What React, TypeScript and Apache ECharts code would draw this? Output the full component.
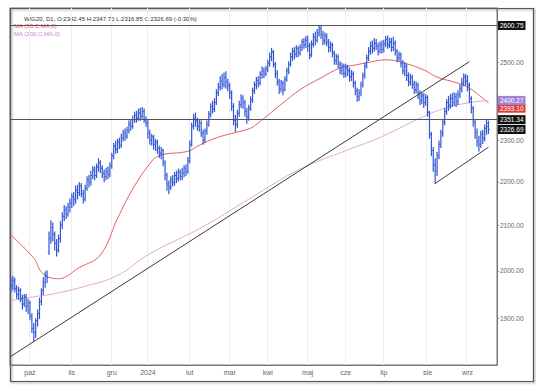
import React, { useEffect, useRef } from 'react';
import * as echarts from 'echarts';

// ---- categories (trading days per month, Sept 2023 .. Sept 2024) ----
const monthNames = ['wrz', 'paź', 'lis', 'gru', '2024', 'lut', 'mar', 'kwi', 'maj', 'cze', 'lip', 'sie', 'wrz'];
const monthDays = [10, 22, 21, 19, 22, 21, 20, 21, 20, 20, 23, 21, 12];
const futureBars = 4;

// ---- OHLC bars: [open, close, low, high] ----
const sep23 = [
  [1975, 1968, 1955, 1985], [1968, 1980, 1960, 1988], [1980, 1962, 1955, 1984], [1962, 1950, 1942, 1968],
  [1950, 1958, 1940, 1965], [1958, 1942, 1935, 1962], [1942, 1930, 1920, 1948], [1930, 1945, 1925, 1950],
  [1945, 1925, 1915, 1950], [1925, 1932, 1910, 1940],
];
const oct23 = [
  [1932, 1905, 1898, 1936], [1905, 1880, 1872, 1910], [1880, 1872, 1855, 1890], [1872, 1895, 1862, 1900],
  [1895, 1910, 1885, 1918], [1910, 1935, 1900, 1942], [1935, 1958, 1928, 1962], [1958, 1975, 1950, 1985],
  [1975, 1990, 1965, 1998], [1990, 1985, 1975, 2000], [2040, 2070, 2035, 2085], [2070, 2095, 2060, 2110],
  [2095, 2080, 2065, 2105], [2080, 2060, 2045, 2085], [2060, 2045, 2032, 2068], [2045, 2070, 2040, 2078],
  [2070, 2100, 2062, 2108], [2100, 2120, 2092, 2128], [2120, 2135, 2110, 2145], [2135, 2125, 2115, 2142],
  [2125, 2140, 2120, 2150], [2140, 2150, 2130, 2160],
];
const nov23 = [
  [2150, 2165, 2140, 2172], [2165, 2158, 2145, 2175], [2158, 2180, 2150, 2190], [2180, 2175, 2160, 2192],
  [2175, 2190, 2168, 2198], [2190, 2172, 2165, 2196], [2172, 2160, 2150, 2180], [2160, 2185, 2155, 2192],
  [2185, 2205, 2180, 2212], [2205, 2198, 2188, 2215], [2198, 2215, 2192, 2225], [2215, 2228, 2208, 2236],
  [2228, 2215, 2205, 2235], [2215, 2235, 2210, 2242], [2235, 2245, 2225, 2255], [2245, 2232, 2222, 2250],
  [2232, 2220, 2210, 2238], [2220, 2212, 2200, 2228], [2212, 2225, 2205, 2232], [2225, 2218, 2208, 2235],
  [2218, 2238, 2212, 2245],
];
const dec23 = [
  [2238, 2262, 2232, 2268], [2262, 2285, 2255, 2292], [2285, 2278, 2268, 2298], [2278, 2295, 2270, 2302],
  [2295, 2288, 2280, 2305], [2288, 2305, 2282, 2315], [2305, 2318, 2298, 2325], [2318, 2310, 2300, 2328],
  [2310, 2325, 2305, 2332], [2325, 2340, 2318, 2348], [2340, 2335, 2325, 2352], [2335, 2352, 2330, 2360],
  [2352, 2362, 2345, 2370], [2362, 2355, 2345, 2372], [2355, 2368, 2350, 2378], [2368, 2360, 2350, 2380],
  [2360, 2372, 2355, 2382], [2372, 2350, 2345, 2378], [2350, 2342, 2335, 2358],
];
const jan24 = [
  [2342, 2318, 2305, 2350], [2318, 2300, 2290, 2325], [2300, 2308, 2288, 2315], [2308, 2290, 2278, 2312],
  [2290, 2295, 2275, 2302], [2295, 2280, 2268, 2300], [2280, 2268, 2258, 2285], [2268, 2275, 2255, 2282],
  [2275, 2245, 2238, 2278], [2245, 2215, 2205, 2250], [2215, 2195, 2180, 2220], [2195, 2188, 2172, 2202],
  [2188, 2205, 2182, 2212], [2205, 2198, 2190, 2215], [2198, 2215, 2192, 2222], [2215, 2208, 2198, 2225],
  [2208, 2222, 2202, 2230], [2222, 2212, 2205, 2228], [2212, 2220, 2205, 2232], [2220, 2232, 2212, 2238],
  [2232, 2225, 2215, 2240], [2225, 2250, 2220, 2258],
];
const feb24 = [
  [2250, 2290, 2245, 2298], [2290, 2335, 2285, 2342], [2335, 2355, 2328, 2365], [2355, 2348, 2335, 2368],
  [2348, 2335, 2325, 2355], [2335, 2342, 2322, 2350], [2342, 2318, 2310, 2348], [2318, 2300, 2290, 2325],
  [2300, 2322, 2295, 2328], [2322, 2340, 2315, 2348], [2340, 2365, 2335, 2372], [2365, 2385, 2358, 2392],
  [2385, 2378, 2368, 2398], [2378, 2395, 2372, 2405], [2395, 2420, 2390, 2428], [2420, 2435, 2412, 2445],
  [2435, 2450, 2428, 2462], [2450, 2442, 2430, 2468], [2442, 2460, 2435, 2472], [2460, 2448, 2432, 2475],
  [2448, 2438, 2425, 2455],
];
const mar24 = [
  [2438, 2420, 2405, 2445], [2420, 2385, 2375, 2425], [2385, 2350, 2338, 2392], [2350, 2340, 2322, 2362],
  [2340, 2368, 2332, 2375], [2368, 2390, 2360, 2398], [2390, 2405, 2382, 2415], [2405, 2395, 2380, 2412],
  [2395, 2372, 2360, 2400], [2372, 2358, 2342, 2380], [2358, 2380, 2350, 2388], [2380, 2402, 2375, 2410],
  [2402, 2425, 2395, 2432], [2425, 2440, 2418, 2448], [2440, 2452, 2430, 2460], [2452, 2445, 2435, 2462],
  [2445, 2468, 2440, 2475], [2468, 2478, 2458, 2488], [2478, 2470, 2460, 2485], [2470, 2482, 2465, 2490],
];
const apr24 = [
  [2482, 2498, 2475, 2505], [2498, 2515, 2490, 2525], [2515, 2528, 2505, 2538], [2528, 2495, 2488, 2532],
  [2495, 2470, 2460, 2500], [2470, 2448, 2440, 2478], [2448, 2430, 2418, 2455], [2430, 2445, 2422, 2452],
  [2445, 2428, 2415, 2450], [2428, 2455, 2425, 2462], [2455, 2478, 2450, 2485], [2478, 2495, 2470, 2502],
  [2495, 2515, 2490, 2525], [2515, 2530, 2505, 2538], [2530, 2522, 2510, 2540], [2522, 2538, 2515, 2545],
  [2538, 2525, 2515, 2542], [2525, 2540, 2520, 2548], [2540, 2555, 2532, 2562], [2555, 2548, 2538, 2565],
  [2548, 2560, 2540, 2570],
];
const may24 = [
  [2560, 2545, 2530, 2572], [2545, 2520, 2510, 2552], [2520, 2550, 2515, 2558], [2550, 2568, 2542, 2578],
  [2568, 2560, 2548, 2582], [2560, 2580, 2555, 2590], [2580, 2592, 2572, 2600.75], [2592, 2575, 2565, 2598],
  [2575, 2560, 2548, 2585], [2560, 2572, 2550, 2580], [2572, 2555, 2545, 2578], [2555, 2540, 2528, 2562],
  [2540, 2548, 2530, 2555], [2548, 2525, 2515, 2552], [2525, 2505, 2495, 2530], [2505, 2515, 2495, 2522],
  [2515, 2495, 2485, 2520], [2495, 2480, 2470, 2502], [2480, 2490, 2468, 2498], [2490, 2470, 2460, 2495],
];
const jun24 = [
  [2470, 2485, 2462, 2495], [2485, 2478, 2465, 2492], [2478, 2462, 2450, 2485], [2462, 2470, 2452, 2478],
  [2470, 2445, 2435, 2475], [2445, 2425, 2415, 2450], [2425, 2410, 2398, 2432], [2410, 2420, 2400, 2428],
  [2420, 2440, 2412, 2448], [2440, 2465, 2435, 2472], [2465, 2490, 2458, 2498], [2490, 2512, 2485, 2520],
  [2512, 2530, 2505, 2540], [2530, 2545, 2522, 2555], [2545, 2538, 2525, 2558], [2538, 2552, 2530, 2565],
  [2552, 2545, 2535, 2562], [2545, 2530, 2520, 2552], [2530, 2548, 2525, 2555], [2548, 2535, 2525, 2558],
];
const jul24 = [
  [2535, 2550, 2528, 2560], [2550, 2562, 2542, 2570], [2562, 2548, 2538, 2572], [2548, 2555, 2540, 2566],
  [2555, 2540, 2530, 2565], [2540, 2552, 2532, 2568], [2552, 2530, 2520, 2558], [2530, 2512, 2502, 2535],
  [2512, 2520, 2505, 2528], [2520, 2498, 2488, 2525], [2498, 2478, 2470, 2505], [2478, 2490, 2465, 2500],
  [2490, 2465, 2452, 2495], [2465, 2448, 2438, 2472], [2448, 2460, 2440, 2468], [2460, 2442, 2432, 2466],
  [2442, 2428, 2418, 2450], [2428, 2440, 2420, 2448], [2440, 2418, 2405, 2445], [2418, 2400, 2390, 2425],
  [2400, 2412, 2392, 2420], [2412, 2395, 2382, 2418], [2395, 2408, 2388, 2415],
];
const aug24 = [
  [2408, 2370, 2360, 2412], [2370, 2315, 2305, 2372], [2315, 2275, 2262, 2320], [2275, 2240, 2225, 2282],
  [2240, 2225, 2196, 2255], [2225, 2262, 2215, 2270], [2262, 2290, 2255, 2298], [2290, 2318, 2282, 2325],
  [2318, 2345, 2310, 2352], [2345, 2372, 2338, 2380], [2372, 2395, 2365, 2402], [2395, 2388, 2375, 2410],
  [2388, 2405, 2380, 2415], [2405, 2395, 2385, 2418], [2395, 2410, 2388, 2420], [2410, 2398, 2385, 2418],
  [2398, 2415, 2390, 2425], [2415, 2430, 2408, 2440], [2430, 2445, 2422, 2458], [2445, 2462, 2438, 2470],
  [2462, 2450, 2440, 2468],
];
const sep24 = [
  [2450, 2440, 2425, 2465], [2440, 2405, 2395, 2445], [2405, 2380, 2368, 2410], [2380, 2345, 2335, 2385],
  [2345, 2320, 2305, 2352], [2320, 2298, 2285, 2328], [2298, 2290, 2274, 2310], [2290, 2315, 2282, 2322],
  [2315, 2305, 2292, 2325], [2305, 2330, 2298, 2338], [2330, 2334, 2315, 2350], [2342.45, 2326.69, 2316.85, 2347.7],
];

// ---- moving averages: [bar index, value] ----
const ma50 = [
  [0, 2078], [12, 2027], [17, 1993], [25, 1983], [36, 2007], [47, 2034], [56, 2115], [64, 2183],
  [73, 2243], [78, 2263], [93, 2273], [99, 2288], [108, 2306], [117, 2318], [126, 2330], [131, 2347],
  [142, 2390], [152, 2428], [163, 2459], [173, 2485], [181, 2493], [189, 2501], [197, 2507], [205, 2501],
  [217, 2480], [224, 2461], [235, 2445], [241, 2432], [248, 2406], [251, 2393.1],
];
const ma200 = [
  [0, 1937], [12, 1945], [21, 1950], [38, 1966], [56, 1990], [73, 2037], [99, 2092], [126, 2162],
  [152, 2230], [178, 2278], [194, 2307], [215, 2355], [229, 2382], [243, 2396], [251, 2400.27],
];

// ---- levels, trend lines, texts ----
const yTickValues = [1900, 2000, 2100, 2200, 2300, 2500];
const hLines = [2600.75, 2351.34];
const lastClose = 2326.69;
const ma50Last = 2393.1;
const ma200Last = 2400.27;
const trendMain = [[0, 1825], [241, 2502]];
const trendChannel = [[223, 2196], [251, 2283]];
const titleText = 'WIG20, D1, O:2342.45 H:2347.70 L:2316.85 C:2326.69 (-0.30%)';
const ma50Text = 'MA (50,C,MA,0)';
const ma200Text = 'MA (200,C,MA,0)';

const FONT = 'Liberation Sans, Arial, sans-serif';
const BAR = '#3157d6';

export default function App() {
  const ref = useRef<HTMLDivElement>(null);

  useEffect(() => {
    if (!ref.current) return;
    const chart = echarts.init(ref.current, null, { renderer: 'svg' });

    const categories: string[] = [];
    monthNames.forEach((m, mi) => {
      for (let d = 1; d <= monthDays[mi]; d++) categories.push(`${mi}|${m}|${d}`);
    });
    for (let k = 1; k <= futureBars; k++) categories.push(`f|${k}`);
    const isMonthStart = (i: number) => {
      const c = categories[i];
      if (!c) return false;
      const p = c.split('|');
      return p.length === 3 && p[2] === '1' && p[0] !== '0';
    };

    const bars = [...sep23, ...oct23, ...nov23, ...dec23, ...jan24, ...feb24, ...mar24, ...apr24, ...may24, ...jun24, ...jul24, ...aug24, ...sep24];
    const ohlcRows = bars.map((v, i) => [i, v[0], v[1], v[2], v[3]]);

    // MT4-style OHLC bar: high-low stem, open tick to the left, close tick to the right
    const renderBar = (params: any, api: any) => {
      const i = api.value(0);
      const o = api.coord([i, api.value(1)]);
      const c = api.coord([i, api.value(2)]);
      const l = api.coord([i, api.value(3)]);
      const h = api.coord([i, api.value(4)]);
      const x = o[0];
      return {
        type: 'group',
        children: [
          { type: 'rect', shape: { x: x - 0.6, y: h[1] - 0.5, width: 1.2, height: l[1] - h[1] + 1 }, style: { fill: BAR, stroke: null } },
          { type: 'rect', shape: { x: x - 1.2, y: o[1] - 0.5, width: 0.8, height: 1 }, style: { fill: BAR, stroke: null } },
          { type: 'rect', shape: { x: x + 0.4, y: c[1] - 0.5, width: 0.8, height: 1 }, style: { fill: BAR, stroke: null } },
        ],
      };
    };

    const tagLabel = (bg: string, v: number, dy = 0) => ({
      show: true,
      position: 'end',
      distance: 1,
      offset: [0, dy],
      formatter: v.toFixed(2),
      backgroundColor: bg,
      color: '#ffffff',
      fontSize: 6.5,
      fontFamily: FONT,
      padding: [1, 2, 1, 2],
    });
    const invisible = { color: 'rgba(0,0,0,0)', width: 1, type: 'solid' };

    const markData: any[] = [
      { yAxis: ma50Last, lineStyle: invisible, label: tagLabel('#e23b3b', ma50Last, 5) },
      { yAxis: ma200Last, lineStyle: invisible, label: tagLabel('#9d84d6', ma200Last) },
      { yAxis: lastClose, lineStyle: invisible, label: tagLabel('#111111', lastClose) },
      ...hLines.map((v) => ({ yAxis: v, lineStyle: { color: '#555', width: 1, type: 'solid' }, label: tagLabel('#111111', v) })),
      [
        { coord: [trendMain[0][0], trendMain[0][1]] },
        { coord: [trendMain[1][0], trendMain[1][1]] },
      ],
      [
        { coord: [trendChannel[0][0], trendChannel[0][1]] },
        { coord: [trendChannel[1][0], trendChannel[1][1]] },
      ],
    ];

    chart.setOption({
      animation: false,
      backgroundColor: '#ffffff',
      grid: { left: 10, right: 39, top: 8, bottom: 25, show: true, borderColor: '#777', borderWidth: 1, outerBoundsMode: 'none' },
      xAxis: {
        type: 'category',
        data: categories,
        boundaryGap: true,
        axisLine: { lineStyle: { color: '#777' } },
        axisTick: { interval: (i: number) => isMonthStart(i), alignWithLabel: true, length: 3, lineStyle: { color: '#777' } },
        axisLabel: {
          interval: (i: number) => isMonthStart(i),
          formatter: (v: string) => v.split('|')[1],
          fontSize: 7,
          color: '#666',
          fontFamily: FONT,
          margin: 4,
        },
        splitLine: { show: true, interval: (i: number) => isMonthStart(i), lineStyle: { color: '#efefef' } },
      },
      yAxis: {
        type: 'log',
        logBase: 10,
        min: 1808,
        max: 2650,
        position: 'right',
        axisLine: { show: true, lineStyle: { color: '#777' } },
        axisTick: { show: true, customValues: yTickValues, length: 2, lineStyle: { color: '#888' } },
        axisLabel: {
          customValues: yTickValues,
          formatter: (v: number) => Number(v).toFixed(2),
          fontSize: 6.5,
          color: '#666',
          fontFamily: FONT,
          margin: 3,
        },
        splitLine: { show: false },
      },
      series: [
        {
          type: 'custom',
          data: ohlcRows,
          encode: { x: 0, y: [1, 2, 3, 4] },
          renderItem: renderBar,
          clip: true,
          z: 3,
        },
        {
          type: 'line',
          data: ma50,
          smooth: 0.4,
          symbol: 'none',
          lineStyle: { color: '#e06060', width: 1 },
          z: 2,
          markLine: {
            silent: true,
            symbol: ['none', 'none'],
            label: { show: false },
            lineStyle: { color: '#3a3a3a', width: 1, type: 'solid' },
            data: markData,
            z: 4,
          },
        },
        {
          type: 'line',
          data: ma200,
          smooth: 0.4,
          symbol: 'none',
          lineStyle: { color: '#dcaadc', width: 1 },
          z: 2,
        },
      ],
      graphic: [
        {
          type: 'rect',
          shape: { x: 10.5, y: 8.5, width: 523, height: 373 },
          style: { fill: 'none', stroke: '#555', lineWidth: 1.2, shadowBlur: 2, shadowColor: 'rgba(0,0,0,0.45)', shadowOffsetX: 1, shadowOffsetY: 1 },
          silent: true,
        },
        { type: 'text', x: 24, y: 19, style: { text: titleText, fill: '#333', font: `6px ${FONT}`, verticalAlign: 'middle' }, silent: true },
        { type: 'text', x: 14, y: 25.5, style: { text: ma50Text, fill: '#e05050', font: `6px ${FONT}`, verticalAlign: 'middle' }, silent: true },
        { type: 'text', x: 14, y: 34, style: { text: ma200Text, fill: '#c48ac4', font: `6px ${FONT}`, verticalAlign: 'middle' }, silent: true },
      ],
    });

    return () => chart.dispose();
  }, []);

  return <div ref={ref} style={{ position: 'fixed', left: 0, top: 0, width: 536, height: 390 }} />;
}
